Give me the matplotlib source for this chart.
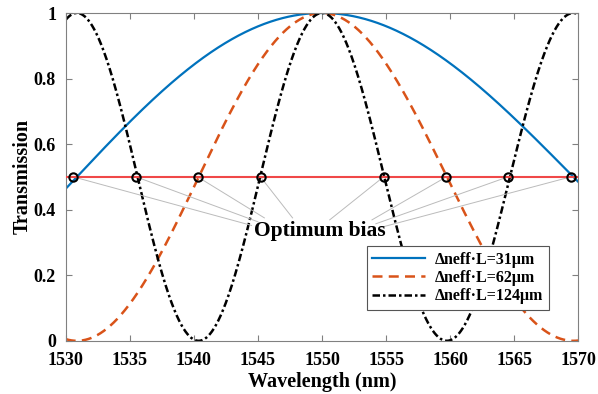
import numpy as np
import matplotlib.pyplot as plt

plt.rcParams['font.family'] = ['Liberation Serif', 'DejaVu Serif']
plt.rcParams['font.weight'] = 'bold'

# MZI arm path difference (um) for each curve
dnl_um = [31, 62, 124]
labels = ['Δneff·L=31μm', 'Δneff·L=62μm', 'Δneff·L=124μm']
colors = ['#0072BD', '#D95319', 'black']
dashes = [(None, None), (4, 2.5), (3, 1.2, 1, 1.2)]

# quadrature points on the bias line
bias = 0.5
bias_wl = [1530.6, 1535.5, 1540.3, 1545.2, 1554.8, 1559.7, 1564.5, 1569.4]
# where the pointer lines meet under the annotation
ptr_x = [1544.5, 1545.0, 1545.5, 1547.7, 1550.6, 1553.9, 1554.2, 1554.5]
ptr_y = [0.352, 0.363, 0.375, 0.375, 0.369, 0.369, 0.357, 0.345]

wl = np.linspace(1530, 1570, 2000)

fig, ax = plt.subplots(figsize=(5.98, 3.94), dpi=100)
fig.subplots_adjust(left=0.11, right=0.967, top=0.967, bottom=0.135)

for d, lab, c, dsh in zip(dnl_um, labels, colors, dashes):
    T = np.cos(np.pi * d * 1000 / wl) ** 2
    ln, = ax.plot(wl, T, color=c, linewidth=1.6 if dsh[0] is None else 1.8,
                  label=lab)
    if dsh[0] is not None:
        ln.set_dashes(dsh)

ax.axhline(bias, color='#f04848', linewidth=1.5, zorder=3)

for bx, px, py in zip(bias_wl, ptr_x, ptr_y):
    ax.plot([bx, px], [bias, py], color='#bbbbbb', linewidth=0.7, zorder=2)
ax.plot(bias_wl, [bias] * len(bias_wl), 'o', mfc='none', mec='black',
        ms=6, mew=1.5, zorder=4)

ax.text(1549.8, 0.336, 'Optimum bias', fontsize=15.5, fontweight='bold',
        ha='center', va='center')

ax.set_xlim(1530, 1570)
ax.set_ylim(0, 1)
ax.set_xticks(range(1530, 1571, 5))
ax.set_yticks([0, 0.2, 0.4, 0.6, 0.8, 1])
ax.set_yticklabels(['0', '0.2', '0.4', '0.6', '0.8', '1'])
ax.tick_params(direction='in', top=True, right=True, labelsize=13,
               color='#808080', length=4)
ax.tick_params(axis='x', pad=8)
ax.tick_params(axis='y', pad=7)
for s in ax.spines.values():
    s.set_color('#808080')
ax.set_xlabel('Wavelength (nm)', fontsize=14.5, fontweight='bold', labelpad=2)
ax.set_ylabel('Transmission', fontsize=14.5, fontweight='bold', labelpad=1)

leg = ax.legend(loc='lower right', bbox_to_anchor=(0.942, 0.094), fontsize=11.5,
                handlelength=3.3, fancybox=False, framealpha=1,
                edgecolor='#555555', borderpad=0.35, labelspacing=0.15,
                handletextpad=0.6, borderaxespad=0)
leg.get_frame().set_linewidth(0.8)

fig.savefig('out.png')
